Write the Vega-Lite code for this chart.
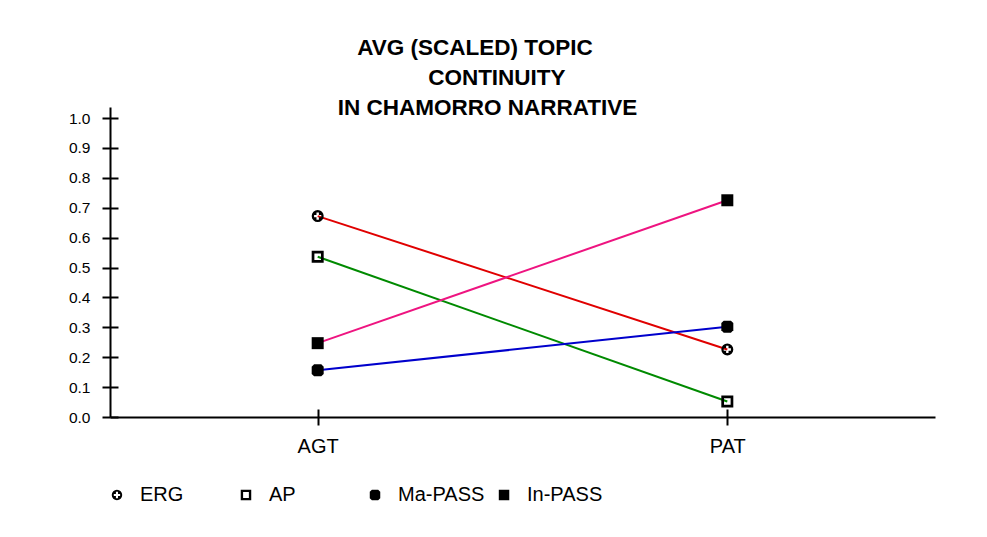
{
  "$schema": "https://vega.github.io/schema/vega-lite/v6.json",
  "padding": {"left": 68, "top": 36, "right": 10, "bottom": 5},
  "background": "white",
  "config": {"view": {"stroke": null}, "font": "Liberation Sans"},
  "spacing": 29,
  "datasets": {
    "main": [
      {"series": "ERG", "role": "AGT", "value": 0.672},
      {"series": "ERG", "role": "PAT", "value": 0.226},
      {"series": "AP", "role": "AGT", "value": 0.536},
      {"series": "AP", "role": "PAT", "value": 0.052},
      {"series": "Ma-PASS", "role": "AGT", "value": 0.156},
      {"series": "Ma-PASS", "role": "PAT", "value": 0.302},
      {"series": "In-PASS", "role": "AGT", "value": 0.247},
      {"series": "In-PASS", "role": "PAT", "value": 0.725}
    ],
    "keys": [
      {"series": "ERG"},
      {"series": "AP"},
      {"series": "Ma-PASS"},
      {"series": "In-PASS"}
    ]
  },
  "resolve": {"scale": {"x": "independent", "y": "independent", "shape": "shared"}},
  "vconcat": [
    {
      "width": 825,
      "height": 310,
      "title": {
        "text": ["AVG (SCALED) TOPIC\u00a0\u00a0\u00a0\u00a0\u200b", "\u200b\u00a0\u00a0\u00a0CONTINUITY", "IN CHAMORRO NARRATIVE"],
        "fontSize": 22.5,
        "fontWeight": "bold",
        "font": "Liberation Sans",
        "color": "black",
        "lineHeight": 30,
        "anchor": "middle",
        "baseline": "alphabetic",
        "offset": -30,
        "dx": -35
      },
      "data": {"name": "main"},
      "layer": [
        {
          "mark": {"type": "line", "strokeWidth": 2},
          "encoding": {
            "x": {
              "field": "role", "type": "nominal", "sort": ["AGT", "PAT"],
              "scale": {"type": "point", "padding": 0.507},
              "axis": {
                "orient": "bottom", "title": null, "labelAngle": 0, "grid": false,
                "tickSize": 8, "tickWidth": 2, "tickColor": "black",
                "domainWidth": 2, "domainColor": "black",
                "labelFontSize": 20, "labelColor": "black", "labelPadding": 11,
                "labelFont": "Liberation Sans"
              }
            },
            "y": {
              "field": "value", "type": "quantitative",
              "scale": {"domain": [0, 1.037], "nice": false, "zero": true},
              "axis": {
                "orient": "left", "title": null, "grid": false,
                "values": [0, 0.1, 0.2, 0.3, 0.4, 0.5, 0.6, 0.7, 0.8, 0.9, 1.0],
                "format": ".1f",
                "tickSize": 8, "tickWidth": 2, "tickColor": "black",
                "domainWidth": 2, "domainColor": "black",
                "labelFontSize": 15.5, "labelColor": "black", "labelPadding": 12,
                "labelFont": "Liberation Sans"
              }
            },
            "color": {
              "field": "series", "type": "nominal",
              "scale": {"domain": ["ERG", "AP", "Ma-PASS", "In-PASS"], "range": ["#e00000", "#008a00", "#0000cc", "#ee1480"]},
              "legend": null
            }
          }
        },
        {
          "mark": {"type": "point", "filled": true, "fill": "black", "strokeWidth": 0, "opacity": 1, "size": 144},
          "encoding": {
            "x": {
              "field": "role", "type": "nominal", "sort": ["AGT", "PAT"],
              "scale": {"type": "point", "padding": 0.507},
              "axis": {
                "orient": "bottom", "offset": -8, "title": null, "labels": false, "domain": false, "grid": false,
                "tickSize": 8, "tickWidth": 2, "tickColor": "black"
              }
            },
            "y": {
              "field": "value", "type": "quantitative",
              "scale": {"domain": [0, 1.037], "nice": false, "zero": true},
              "axis": {
                "orient": "left", "offset": -8, "title": null, "labels": false, "domain": false, "grid": false,
                "values": [0, 0.1, 0.2, 0.3, 0.4, 0.5, 0.6, 0.7, 0.8, 0.9, 1.0],
                "tickSize": 8, "tickWidth": 2, "tickColor": "black"
              }
            },
            "shape": {
              "field": "series", "type": "nominal",
              "scale": {
                "domain": ["ERG", "AP", "Ma-PASS", "In-PASS"],
                "range": [
                  "M1,0L0.924,-0.383L0.707,-0.707L0.383,-0.924L0,-1L-0.383,-0.924L-0.707,-0.707L-0.924,-0.383L-1,0L-0.924,0.383L-0.707,0.707L-0.383,0.924L0,1L0.383,0.924L0.707,0.707L0.924,0.383ZM-0.2,-0.6L0.2,-0.6L0.2,-0.2L0.6,-0.2L0.6,0.2L0.2,0.2L0.2,0.6L-0.2,0.6L-0.2,0.2L-0.6,0.2L-0.6,-0.2L-0.2,-0.2Z",
                  "M-1,-1L-1,1L1,1L1,-1ZM-0.55,-0.55L0.55,-0.55L0.55,0.55L-0.55,0.55Z",
                  "M-0.6,-1L0.6,-1L1,-0.6L1,0.6L0.6,1L-0.6,1L-1,0.6L-1,-0.6Z",
                  "M-1,-1L1,-1L1,1L-1,1Z"
                ]
              },
              "legend": null
            }
          }
        }
      ],
      "resolve": {"axis": {"x": "independent", "y": "independent"}}
    },
    {
      "width": 401,
      "height": 20,
      "data": {"name": "keys"},
      "layer": [
        {
          "mark": {"type": "point", "filled": true, "fill": "black", "strokeWidth": 0, "opacity": 1, "size": 110},
          "encoding": {
            "x": {
              "field": "series", "type": "nominal", "sort": ["ERG", "AP", "Ma-PASS", "In-PASS"],
              "scale": {"type": "point", "padding": 0.054},
              "axis": null
            },
            "shape": {"field": "series", "type": "nominal", "legend": null}
          }
        },
        {
          "mark": {"type": "text", "align": "left", "baseline": "middle", "dx": 23, "fontSize": 20, "font": "Liberation Sans", "color": "black"},
          "encoding": {
            "x": {
              "field": "series", "type": "nominal", "sort": ["ERG", "AP", "Ma-PASS", "In-PASS"],
              "scale": {"type": "point", "padding": 0.054},
              "axis": null
            },
            "text": {"field": "series", "type": "nominal"}
          }
        }
      ]
    }
  ]
}
